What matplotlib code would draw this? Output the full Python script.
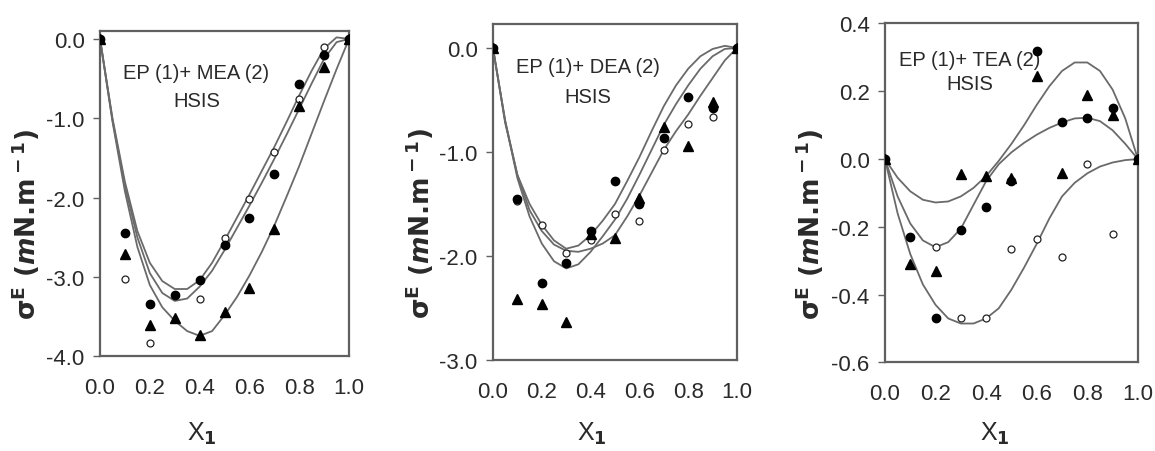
import matplotlib
matplotlib.use('Agg')
import matplotlib.pyplot as plt
from matplotlib.ticker import FormatStrFormatter
from matplotlib.transforms import blended_transform_factory

# --- data --------------------------------------------------------------------
x_pts = [0.0, 0.1, 0.2, 0.3, 0.4, 0.5, 0.6, 0.7, 0.8, 0.9, 1.0]
x_fit = [0.0, 0.05, 0.1, 0.15, 0.2, 0.25, 0.3, 0.35, 0.4, 0.45, 0.5,
         0.55, 0.6, 0.65, 0.7, 0.75, 0.8, 0.85, 0.9, 0.95, 1.0]

# EP (1) + MEA (2)
mea_filled = [0.0, -2.44, -3.34, -3.22, -3.04, -2.60, -2.25, -1.70, -0.57, -0.20, 0.0]
mea_open = [0.0, -3.03, -3.83, -3.22, -3.27, -2.51, -2.01, -1.42, -0.76, -0.10, 0.0]
mea_tri = [0.0, -2.71, -3.60, -3.51, -3.73, -3.44, -3.14, -2.39, -0.84, -0.35, 0.0]
mea_fit1 = [0.0, -1.00, -1.80, -2.42, -2.82, -3.05, -3.15, -3.15, -3.04, -2.82, -2.54,
            -2.25, -1.96, -1.66, -1.36, -1.04, -0.71, -0.40, -0.12, 0.02, 0.0]
mea_fit2 = [0.0, -1.02, -1.85, -2.50, -2.95, -3.20, -3.30, -3.27, -3.12, -2.92, -2.66,
            -2.38, -2.10, -1.81, -1.51, -1.20, -0.88, -0.56, -0.25, -0.04, 0.0]
mea_fit3 = [0.0, -1.04, -1.92, -2.62, -3.10, -3.38, -3.55, -3.68, -3.74, -3.68, -3.48,
            -3.25, -2.98, -2.68, -2.35, -1.98, -1.60, -1.19, -0.78, -0.38, 0.0]

# EP (1) + DEA (2)
dea_filled = [0.0, -1.45, -2.26, -2.07, -1.76, -1.28, -1.50, -0.87, -0.47, -0.58, 0.0]
dea_open = [0.0, -1.47, -1.70, -1.97, -1.85, -1.60, -1.66, -0.98, -0.73, -0.66, 0.0]
dea_tri = [0.0, -2.41, -2.46, -2.63, -1.79, -1.83, -1.44, -0.76, -0.94, -0.52, 0.0]
dea_fit1 = [0.0, -0.72, -1.22, -1.50, -1.70, -1.85, -1.93, -1.90, -1.80, -1.66, -1.50,
            -1.28, -1.05, -0.80, -0.56, -0.36, -0.20, -0.08, -0.01, 0.02, 0.0]
dea_fit2 = [0.0, -0.70, -1.22, -1.56, -1.76, -1.89, -1.95, -1.96, -1.93, -1.88, -1.80,
            -1.62, -1.42, -1.20, -0.98, -0.80, -0.64, -0.46, -0.29, -0.12, 0.0]
dea_fit3 = [0.0, -0.70, -1.25, -1.62, -1.88, -2.05, -2.12, -2.08, -1.96, -1.81, -1.65,
            -1.45, -1.22, -0.98, -0.74, -0.54, -0.36, -0.20, -0.08, -0.01, 0.0]

# EP (1) + TEA (2)
tea_filled = [0.0, -0.23, -0.47, -0.21, -0.14, -0.065, 0.32, 0.11, 0.12, 0.15, 0.0]
tea_open = [0.0, -0.23, -0.26, -0.47, -0.47, -0.265, -0.235, -0.29, -0.015, -0.22, 0.0]
tea_tri = [0.0, -0.31, -0.33, -0.045, -0.05, -0.055, 0.245, -0.04, 0.19, 0.13, 0.0]
tea_fit1 = [0.0, -0.055, -0.095, -0.12, -0.128, -0.125, -0.11, -0.085, -0.05, -0.005, 0.045,
            0.10, 0.16, 0.215, 0.26, 0.285, 0.285, 0.26, 0.205, 0.12, 0.0]
tea_fit2 = [0.0, -0.11, -0.19, -0.24, -0.26, -0.245, -0.205, -0.135, -0.065, -0.015, 0.02,
            0.048, 0.072, 0.092, 0.108, 0.12, 0.122, 0.112, 0.085, 0.045, 0.0]
tea_fit3 = [0.0, -0.16, -0.28, -0.37, -0.43, -0.47, -0.485, -0.485, -0.47, -0.44, -0.385,
            -0.32, -0.25, -0.175, -0.11, -0.07, -0.042, -0.022, -0.01, -0.003, 0.0]

mea_yticks = [-4.0, -3.0, -2.0, -1.0, 0.0]
dea_yticks = [-3.0, -2.0, -1.0, 0.0]
tea_yticks = [-0.6, -0.4, -0.2, 0.0, 0.2, 0.4]
xticks = [0.0, 0.2, 0.4, 0.6, 0.8, 1.0]

plt.rcParams['axes.unicode_minus'] = False
plt.rcParams['mathtext.fontset'] = 'custom'
plt.rcParams['mathtext.rm'] = 'DejaVu Sans:bold'
plt.rcParams['mathtext.it'] = 'DejaVu Sans:italic:bold'
plt.rcParams['mathtext.bf'] = 'DejaVu Sans:bold'

FONT = ['Liberation Sans', 'DejaVu Sans']
TXT = '#2a2a2a'
FRAME = '#606060'
LINE = '#6a6a6a'


def draw_panel(fig, ax, fits, filled, opened, tri, ylim, yticks, name, name_xy, hsis_xy, xlab_x):
    for f in fits:
        ax.plot(x_fit, f, color=LINE, lw=1.3, zorder=2)
    ax.plot(x_pts, opened, 'o', ms=5, mfc='white', mec='#222', mew=0.9, zorder=3)
    ax.plot(x_pts, tri, '^', ms=6.5, color='black', zorder=4)
    ax.plot(x_pts, filled, 'o', ms=6, color='black', zorder=5)

    ax.set_xlim(0, 1)
    ax.set_ylim(*ylim)
    ax.set_xticks(xticks)
    ax.set_yticks(yticks)
    ax.xaxis.set_major_formatter(FormatStrFormatter('%.1f'))
    ax.yaxis.set_major_formatter(FormatStrFormatter('%.1f'))
    ax.tick_params(axis='x', length=0, pad=15, labelsize=16, labelcolor=TXT)
    ax.tick_params(axis='y', length=5, width=1, color=FRAME, pad=6,
                   labelsize=16, labelcolor=TXT)
    for lab in ax.get_xticklabels() + ax.get_yticklabels():
        lab.set_family(FONT)
    for s in ax.spines.values():
        s.set_color(FRAME)
        s.set_linewidth(1.6)

    ax.text(name_xy[0], name_xy[1], name, transform=ax.transData, ha='center',
            va='center', fontsize=14.5, color=TXT, family=FONT)
    ax.text(hsis_xy[0], hsis_xy[1], 'HSIS', transform=ax.transData, ha='center',
            va='center', fontsize=14.5, color=TXT, family=FONT)

    # x label sits at the same height in all three panels
    ax.set_xlabel('X$_1$', fontsize=18, color=TXT, family=FONT, va='center')
    ax.xaxis.set_label_coords(xlab_x, 0.04,
                              transform=blended_transform_factory(ax.transAxes, fig.transFigure))
    ax.set_ylabel(r'σ$^{\rm E}$ ($\it{m}$N.m$^{\rm -1}$)', fontsize=19,
                  fontweight='bold', color=TXT, family='DejaVu Sans')
    ax.yaxis.set_label_coords(-0.235, 0.41)


fig = plt.figure(figsize=(11.55, 4.52), dpi=100)
ax1 = fig.add_axes([0.0866, 0.2091, 0.2156, 0.7201])
ax2 = fig.add_axes([0.4268, 0.2013, 0.2113, 0.7434])
ax3 = fig.add_axes([0.7662, 0.1958, 0.2190, 0.7500])

draw_panel(fig, ax1, [mea_fit1, mea_fit2, mea_fit3], mea_filled, mea_open, mea_tri,
           (-4.0, 0.1), mea_yticks, 'EP (1)+ MEA (2)', (0.385, -0.42), (0.39, -0.78), 0.41)
draw_panel(fig, ax2, [dea_fit1, dea_fit2, dea_fit3], dea_filled, dea_open, dea_tri,
           (-3.0, 0.23), dea_yticks, 'EP (1)+ DEA (2)', (0.39, -0.18), (0.39, -0.47), 0.405)
draw_panel(fig, ax3, [tea_fit1, tea_fit2, tea_fit3], tea_filled, tea_open, tea_tri,
           (-0.6, 0.4), tea_yticks, 'EP (1)+ TEA (2)', (0.335, 0.294), (0.335, 0.222), 0.435)

fig.savefig('out.png', dpi=100, facecolor='white')
